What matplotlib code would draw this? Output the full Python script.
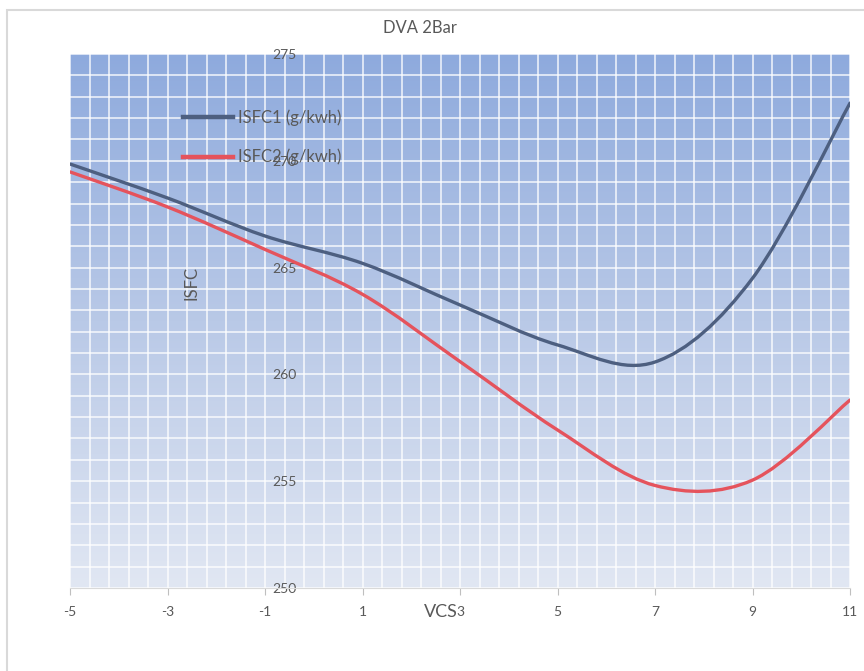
import numpy as np
import matplotlib.pyplot as plt
from matplotlib.path import Path
from matplotlib.patches import PathPatch, Rectangle
from matplotlib.colors import LinearSegmentedColormap
from matplotlib.lines import Line2D

plt.rcParams['font.family'] = ['Lato', 'DejaVu Sans']
plt.rcParams['axes.unicode_minus'] = False

# data
vcs = [-5, -3, -1, 1, 3, 5, 7, 9, 11]
isfc1 = [269.85, 268.26, 266.48, 265.2, 263.25, 261.38, 260.58, 264.5, 272.7]
isfc2 = [269.48, 267.84, 265.85, 263.75, 260.6, 257.4, 254.8, 255.05, 258.8]
labels = ['ISFC1 (g/kwh)', 'ISFC2 (g/kwh)']
colors = ['#4d5f80', '#e5535c']


def smooth_path(x, y):
    # excel style smoothed line: cubic bezier through every point
    p = np.column_stack([x, y]).astype(float)
    n = len(p)
    verts = [p[0]]
    codes = [Path.MOVETO]
    for i in range(n - 1):
        p0 = p[max(i - 1, 0)]
        p3 = p[min(i + 2, n - 1)]
        c1 = p[i] + (p[i + 1] - p0) / 6
        c2 = p[i + 1] - (p3 - p[i]) / 6
        verts += [c1, c2, p[i + 1]]
        codes += [Path.CURVE4] * 3
    return Path(verts, codes)


fig = plt.figure(figsize=(8.64, 6.71), dpi=100)
ax = fig.add_axes([70 / 864, 83 / 671, 780 / 864, 534 / 671])

cmap = LinearSegmentedColormap.from_list('bg', ['#e1e7f3', '#b9c9e7', '#8eaadd'])
ax.imshow(np.linspace(0, 1, 256).reshape(-1, 1), cmap=cmap, origin='lower',
          extent=[-5, 11, 250, 275], aspect='auto', zorder=0)

for ys, c in zip([isfc1, isfc2], colors):
    ax.add_patch(PathPatch(smooth_path(vcs, ys), facecolor='none', edgecolor=c,
                           lw=2.4, capstyle='round', zorder=3))

ax.set_xlim(-5, 11)
ax.set_ylim(250, 275)
ax.set_xticks(np.arange(-5, 12, 2))
ax.set_xticks(np.linspace(-5, 11, 41), minor=True)
ax.set_yticks(np.arange(250, 276, 5))
ax.set_yticks(np.arange(250, 276, 1), minor=True)
ax.grid(which='both', color='white', lw=1.3, alpha=0.75)
ax.set_axisbelow(True)

ax.tick_params(which='minor', length=0)
ax.tick_params(axis='x', which='major', direction='out', length=5, color='#bfbfbf',
               labelcolor='#595959', labelsize=10, pad=8)
ax.yaxis.tick_right()
ax.spines['right'].set_position(('data', -1))
ax.tick_params(axis='y', which='major', length=0, labelcolor='#595959',
               labelsize=10, pad=5)
for s in ['top', 'left', 'right']:
    ax.spines[s].set_visible(False)
ax.spines['bottom'].set_color('#d9d9d9')

ax.set_xlabel('VCS', fontsize=13, color='#595959')
ax.xaxis.set_label_coords(0.476, -0.03)
ax.set_ylabel('ISFC', fontsize=12, color='#595959', rotation=90)
ax.yaxis.set_label_coords(0.166, 0.571)

handles = [Line2D([], [], color=c, lw=3.2) for c in colors]
ax.legend(handles, labels, loc='upper left', bbox_to_anchor=(0.145, 0.897),
          frameon=False, fontsize=12, handlelength=3.0, handletextpad=0.3,
          labelspacing=1.4, borderpad=0, borderaxespad=0, labelcolor='#595959')

fig.text(420 / 864, 1 - 28 / 671, 'DVA 2Bar', ha='center', va='center',
         fontsize=12, color='#595959')
fig.patches.append(Rectangle((7 / 864, -0.1), 1.2, (671 - 10) / 671 + 0.1,
                             transform=fig.transFigure, fill=False,
                             edgecolor='#d9d9d9', lw=1.5))

fig.savefig('out.png', dpi=100)
